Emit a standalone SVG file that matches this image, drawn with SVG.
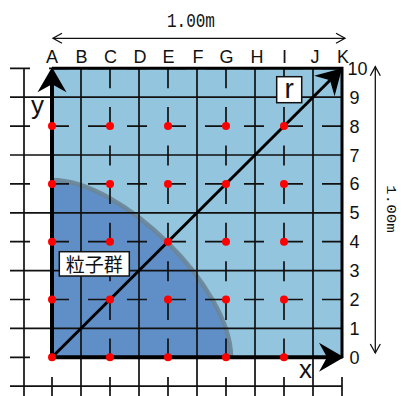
<svg xmlns="http://www.w3.org/2000/svg" width="406" height="396" viewBox="0 0 406 396">
<defs>
<style>
.odd{stroke:#111;stroke-width:1.7;fill:none}
.evh{stroke:#111;stroke-width:1.7;fill:none;stroke-dasharray:20 19}
.evv{stroke:#111;stroke-width:1.7;fill:none;stroke-dasharray:20 18.6}
.lbl{font-family:"Liberation Sans Narrow","Liberation Sans",Arial,sans-serif;font-size:18px;fill:#111}
.mono{font-family:"Liberation Mono","Courier New",monospace;font-size:16px;fill:#111}
.dot{fill:#ff0000}
.box{fill:#fff;stroke:#111;stroke-width:1.5}
.dim{stroke:#111;stroke-width:1.3;fill:none}
</style>
<marker id="big" markerUnits="userSpaceOnUse" viewBox="-9 -16 28 32" markerWidth="28" markerHeight="32" refX="0" refY="0" orient="auto">
<path d="M17,0 L-8,-14.5 L0,0 L-8,14.5 Z" fill="#000"/>
</marker>
<marker id="vee" markerUnits="userSpaceOnUse" viewBox="-11 -7 13 14" markerWidth="13" markerHeight="14" refX="0" refY="0" orient="auto-start-reverse">
<path d="M-9,-5 L0,0 L-9,5" fill="none" stroke="#111" stroke-width="1.3"/>
</marker>
</defs>
<rect width="406" height="396" fill="#fff"/>
<g id="field">
<rect x="52" y="68.3" width="290" height="289" fill="#93c5de"/>
<path d="M52,357.3 L52,180 C121.8,180 231,288.1 231,357.3 Z" fill="#5f8fc6"/>
<path d="M52,180 C121.8,180 231,288.1 231,357.3" fill="none" stroke="#6b8597" stroke-width="4.5" stroke-opacity="0.9"/>
</g>
<g id="grid">
<path class="odd" d="M24,68.3V396M81,68.3V396M139,68.3V396M197,68.3V396M255,68.3V396M313,68.3V396"/>
<path class="odd" d="M10,97.2H342M10,155H342M10,212.8H342M10,270.6H342M10,328.4H342M10,386.2H342"/>
<path class="evv" d="M52,68.3V396M110,68.3V396M168,68.3V396M226,68.3V396M284,68.3V396M342,68.3V396"/>
<path class="evh" d="M10,68.3H342M10,126.1H342M10,183.9H342M10,241.7H342M10,299.5H342M10,357.3H342"/>
</g>
<g id="connectors">
<path d="M52,68.3H342V357.3" fill="none" stroke="#000" stroke-width="3"/>
<line id="axis-y" x1="52" y1="359" x2="52" y2="84.3" stroke="#000" stroke-width="4" marker-end="url(#big)"/>
<line id="axis-x" x1="50" y1="357.3" x2="327" y2="357.3" stroke="#000" stroke-width="4" marker-end="url(#big)"/>
<line id="vector-r" x1="52" y1="357.3" x2="330" y2="80.3" stroke="#000" stroke-width="3" marker-end="url(#big)"/>
<line id="dim-top" class="dim" x1="53" y1="38.3" x2="345" y2="38.3" marker-start="url(#vee)" marker-end="url(#vee)"/>
<line id="dim-right" class="dim" x1="375.3" y1="66.7" x2="375.3" y2="353" marker-start="url(#vee)" marker-end="url(#vee)"/>
</g>
<g id="dots">
<circle class="dot" cx="52" cy="126.1" r="4"/><circle class="dot" cx="110" cy="126.1" r="4"/><circle class="dot" cx="168" cy="126.1" r="4"/><circle class="dot" cx="226" cy="126.1" r="4"/><circle class="dot" cx="284" cy="126.1" r="4"/>
<circle class="dot" cx="52" cy="183.9" r="4"/><circle class="dot" cx="110" cy="183.9" r="4"/><circle class="dot" cx="168" cy="183.9" r="4"/><circle class="dot" cx="226" cy="183.9" r="4"/><circle class="dot" cx="284" cy="183.9" r="4"/>
<circle class="dot" cx="52" cy="241.7" r="4"/><circle class="dot" cx="110" cy="241.7" r="4"/><circle class="dot" cx="168" cy="241.7" r="4"/><circle class="dot" cx="226" cy="241.7" r="4"/><circle class="dot" cx="284" cy="241.7" r="4"/>
<circle class="dot" cx="52" cy="299.5" r="4"/><circle class="dot" cx="110" cy="299.5" r="4"/><circle class="dot" cx="168" cy="299.5" r="4"/><circle class="dot" cx="226" cy="299.5" r="4"/><circle class="dot" cx="284" cy="299.5" r="4"/>
<circle class="dot" cx="52" cy="357.3" r="4"/><circle class="dot" cx="110" cy="357.3" r="4"/><circle class="dot" cx="168" cy="357.3" r="4"/><circle class="dot" cx="226" cy="357.3" r="4"/><circle class="dot" cx="284" cy="357.3" r="4"/>
</g>
<g id="col-labels" class="lbl" text-anchor="middle">
<text x="52" y="63">A</text><text x="81.5" y="63">B</text><text x="110.5" y="63">C</text><text x="140" y="63">D</text><text x="168.5" y="63">E</text><text x="198" y="63">F</text><text x="226.5" y="63">G</text><text x="257" y="63">H</text><text x="284.5" y="63">I</text><text x="315" y="63">J</text><text x="343" y="63">K</text>
</g>
<g id="row-labels" class="lbl">
<text x="347.5" y="74.8">10</text><text x="349.5" y="103.7">9</text><text x="349.5" y="132.6">8</text><text x="349.5" y="161.5">7</text><text x="349.5" y="190.4">6</text><text x="349.5" y="219.3">5</text><text x="349.5" y="248.2">4</text><text x="349.5" y="277.1">3</text><text x="349.5" y="306">2</text><text x="349.5" y="334.9">1</text><text x="349.5" y="363.8">0</text>
</g>
<g id="label-y"><text class="lbl" x="37.5" y="113.5" text-anchor="middle" style="font-size:26px">y</text></g>
<g id="label-x"><text class="lbl" x="305.5" y="377.7" text-anchor="middle" style="font-size:26px">x</text></g>
<g id="label-r">
<rect class="box" x="276.7" y="76.7" width="25" height="26"/>
<text class="lbl" x="289.2" y="98.3" text-anchor="middle" style="font-size:28px">r</text>
</g>
<g id="label-particles">
<rect class="box" x="59.3" y="251.7" width="70" height="24.3"/>
<text x="94.3" y="271.5" text-anchor="middle" style="font-family:'Noto Sans CJK JP','Noto Sans CJK SC',sans-serif;font-size:19px;fill:#111">粒子群</text>
</g>
<g id="dim-top-label"><text class="mono" transform="translate(167,26.7) scale(1,1.22)" x="0" y="0">1.00m</text></g>
<g id="dim-right-label"><text class="mono" transform="translate(387,185) rotate(90) scale(1,0.85)" x="0" y="0">1.00m</text></g>
</svg>
